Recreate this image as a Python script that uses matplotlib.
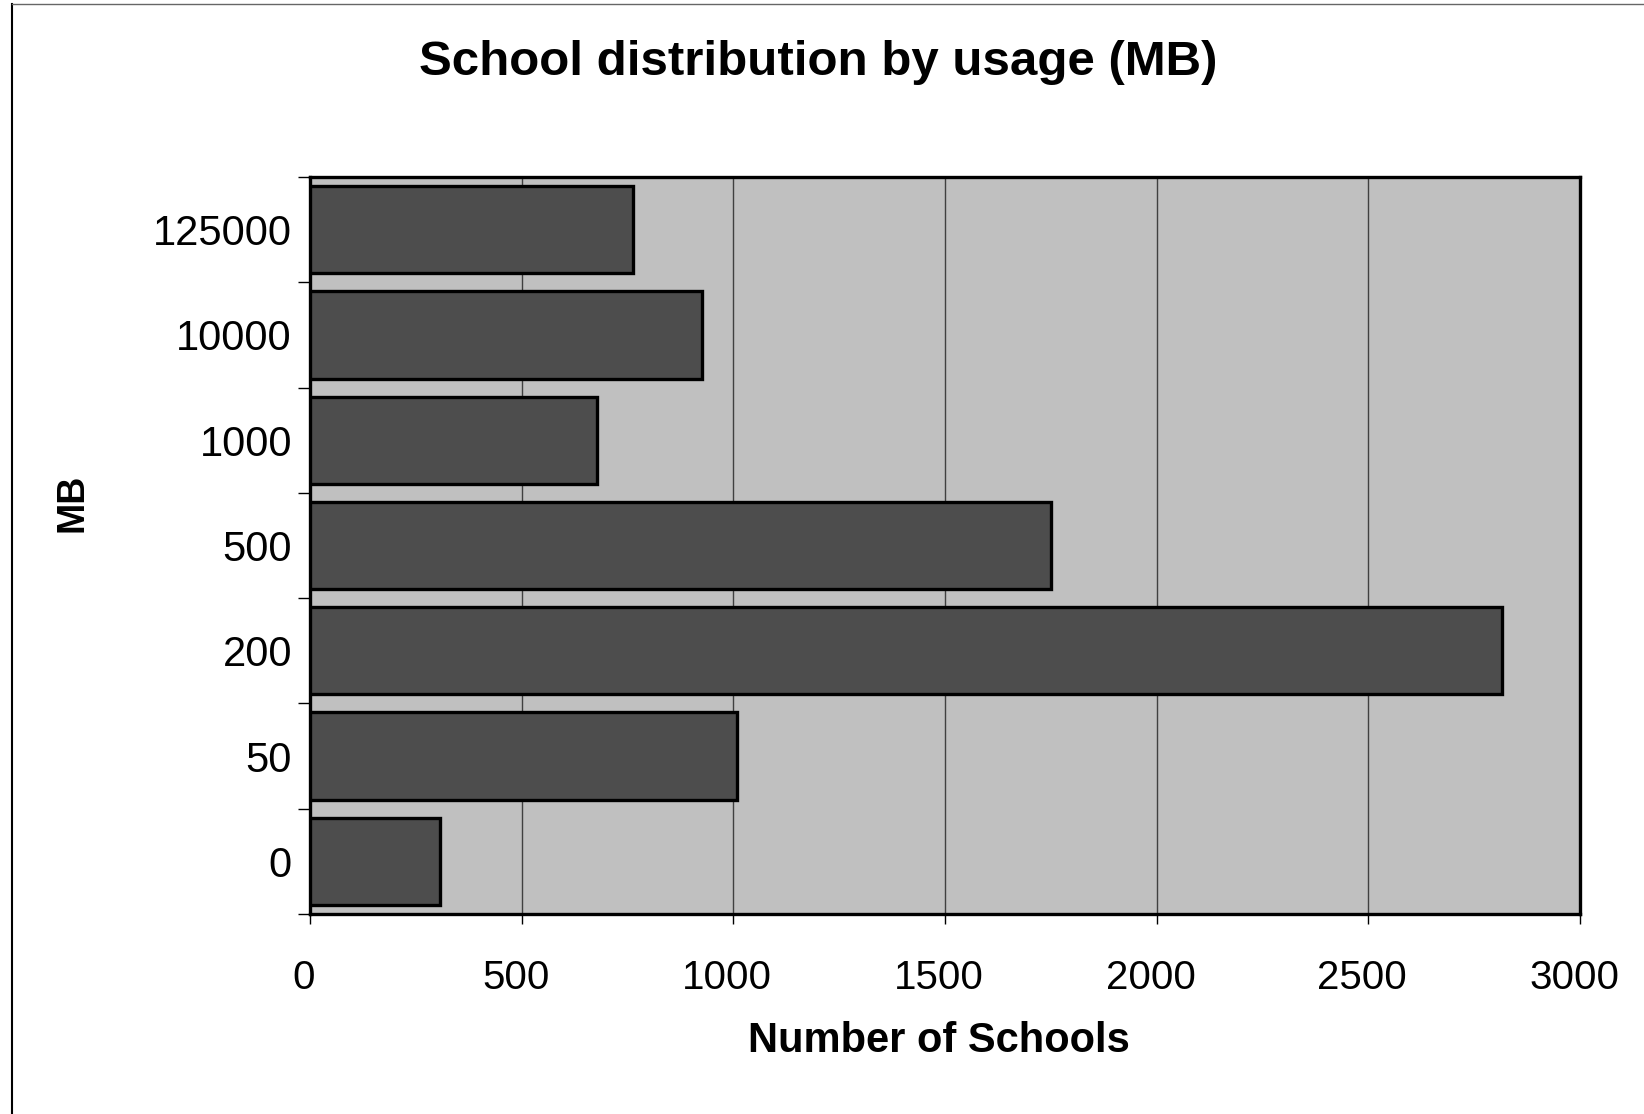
import matplotlib
matplotlib.use("Agg")
import matplotlib.pyplot as plt
from matplotlib.lines import Line2D
import matplotlib.transforms as mtransforms
import numpy as np

categories = ["0", "50", "200", "500", "1000", "10000", "125000"]
schools = [307, 1008, 2815, 1750, 679, 926, 762]
xticks = [0, 500, 1000, 1500, 2000, 2500, 3000]

plt.rcParams['font.family'] = ['Liberation Sans', 'DejaVu Sans']

fig = plt.figure(figsize=(16.44, 11.14), dpi=100)
ax = fig.add_axes([310/1644, 200/1114, (1580-310)/1644, (914-177)/1114])
ax.set_facecolor('#C0C0C0')

y = np.arange(len(categories))
ax.barh(y, schools, height=0.83, color='#4D4D4D', edgecolor='black', linewidth=2.4, zorder=3)

ax.set_xlim(0, 3000)
ax.set_ylim(-0.5, len(categories) - 0.5)
ax.set_xticks(xticks)
ax.set_xticklabels([str(v) for v in xticks], fontsize=29)
ax.xaxis.grid(True, color='#404040', linewidth=1.0, zorder=1)
ax.set_axisbelow(True)

ax.set_yticks(y)
ax.set_yticklabels(categories, fontsize=30)
ax.set_yticks(np.arange(-0.5, len(categories)), minor=True)
ax.tick_params(axis='y', which='major', length=0, pad=13)
ax.tick_params(axis='y', which='minor', length=9, width=1.0, color='black', direction='out')
ax.tick_params(axis='x', which='major', length=7.5, width=1.0, color='black', direction='out', pad=25)

offset = mtransforms.ScaledTranslation(-6/100, 0, fig.dpi_scale_trans)
for lbl in ax.get_xticklabels():
    lbl.set_transform(lbl.get_transform() + offset)

for s in ax.spines.values():
    s.set_linewidth(2.4)
    s.set_color('black')

ax.set_xlabel("Number of Schools", fontsize=30, fontweight='bold')
ax.xaxis.set_label_coords(0.495, -0.1725)
ax.xaxis.label.set_va('center')
ax.set_ylabel("MB", fontsize=27, fontweight='bold')
ax.yaxis.set_label_coords(-0.187, 0.558)
ax.yaxis.label.set_va('center')
fig.suptitle("School distribution by usage (MB)", fontsize=35.5, fontweight='bold', x=(781*1.048)/1644, y=1-(60*1.048)/1114, va='center')

# figure border
fig.add_artist(Line2D([12/1644, 12/1644], [0, 1 - 4/1114], color='black', linewidth=1.5, transform=fig.transFigure))
fig.add_artist(Line2D([12/1644, 1], [1 - 4/1114, 1 - 4/1114], color='#666666', linewidth=1.0, transform=fig.transFigure))

fig.savefig("out.png", dpi=100)
